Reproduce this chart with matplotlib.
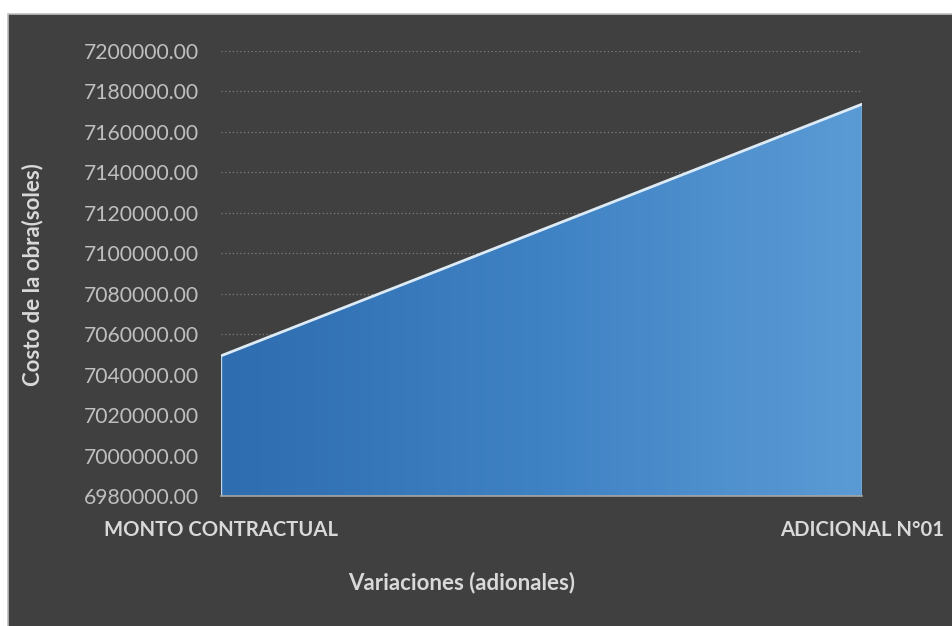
import matplotlib
matplotlib.use("Agg")
import matplotlib.pyplot as plt
import numpy as np
from matplotlib.patches import Rectangle
from matplotlib.colors import LinearSegmentedColormap

categories = ["MONTO CONTRACTUAL", "ADICIONAL N°01"]
values = [7049300.0, 7173700.0]
y_ticks = [6980000, 7000000, 7020000, 7040000, 7060000, 7080000, 7100000,
           7120000, 7140000, 7160000, 7180000, 7200000]
y_min, y_max = 6980000, 7200000

plt.rcParams['font.family'] = ['Lato', 'DejaVu Sans']

W, H = 953, 626
fig = plt.figure(figsize=(W/100, H/100), dpi=100)
fig.patch.set_facecolor('white')

# dark panel
fig.patches.append(Rectangle((8/W, -0.01), 1 - 8/W + 0.01, 1 - 14/H + 0.01, transform=fig.transFigure,
                             facecolor='#404040', edgecolor='#BFBFBF', linewidth=1.2, zorder=-5))

ax = fig.add_axes([221/W, 1 - 496/H, (862-221)/W, (496-51)/H])
ax.set_zorder(2)
ax.set_facecolor('none')
x = np.arange(len(categories))
ax.set_xlim(x[0], x[-1])
ax.set_ylim(y_min, y_max)

# gradient fill clipped to area
poly = ax.fill_between(x, values, y_min, facecolor='none', edgecolor='none')
cmap = LinearSegmentedColormap.from_list('g', ['#2E6DAF', '#3F82C4', '#5B9BD5'])
grad = np.linspace(0, 1, 256).reshape(1, -1)
im = ax.imshow(grad, extent=[x[0], x[-1], y_min, y_max], aspect='auto', cmap=cmap, zorder=2)
clip = poly.get_paths()[0]
im.set_clip_path(clip, transform=ax.transData)
ax.plot(x, values, color='#DDEBF7', linewidth=2, zorder=3, solid_capstyle='round')
ax.vlines([x[0], x[-1]], y_min, values, color='#BDD7EE', linewidth=1, zorder=3)

ax.set_yticks(y_ticks)
ax.set_yticklabels([f"{v:.2f}" for v in y_ticks], color='#BFBFBF', fontsize=15.2)
ax.yaxis.grid(True, color='#7F7F7F', linestyle=(0, (1, 2)), linewidth=0.9, zorder=1)
ax.set_axisbelow(True)
ax.tick_params(axis='y', length=0, pad=16)
ax.set_xticks(x)
ax.set_xticklabels(categories, color='#D9D9D9', fontsize=14.6, fontweight='bold')
ax.tick_params(axis='x', length=0, pad=17)
for s in ['top', 'right', 'left']:
    ax.spines[s].set_visible(False)
ax.spines['bottom'].set_color('#A6A6A6')
ax.spines['bottom'].set_linewidth(1.2)
ax.spines['bottom'].set_zorder(4)

fig.text(33/W, 1 - 275/H, "Costo de la obra(soles)", rotation=90, ha='center', va='center',
         color='#D9D9D9', fontsize=16, fontweight='bold')
fig.text(462/W, 1 - 583/H, "Variaciones (adionales)", ha='center', va='center',
         color='#D9D9D9', fontsize=16, fontweight='bold')

fig.savefig("out.png", dpi=100, facecolor=fig.get_facecolor())
